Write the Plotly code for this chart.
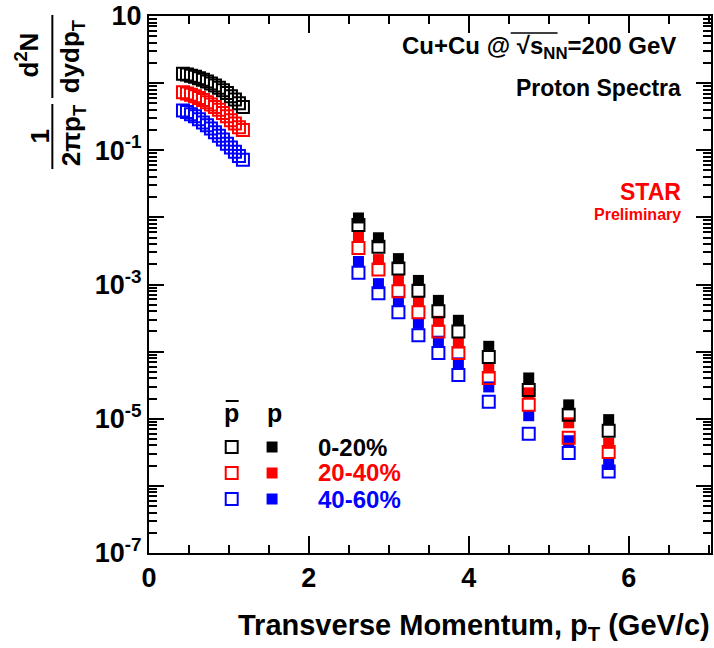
import plotly.graph_objects as go

# ---------------- data ----------------
pt_low = [0.425, 0.475, 0.525, 0.575, 0.625, 0.675, 0.725, 0.775,
          0.825, 0.875, 0.925, 0.975, 1.025, 1.075, 1.125, 1.175]
pbar_low_0_20 = [1.38, 1.34, 1.29, 1.24, 1.18, 1.12, 1.06, 0.99,
                 0.92, 0.85, 0.78, 0.71, 0.64, 0.57, 0.50, 0.44]
pbar_low_20_40 = [0.73, 0.70, 0.67, 0.64, 0.60, 0.56, 0.52, 0.48,
                  0.44, 0.40, 0.36, 0.32, 0.28, 0.25, 0.22, 0.20]
pbar_low_40_60 = [0.39, 0.37, 0.345, 0.32, 0.29, 0.26, 0.235, 0.21,
                  0.185, 0.165, 0.145, 0.125, 0.11, 0.095, 0.082, 0.072]

pt_high = [2.62, 2.87, 3.12, 3.37, 3.62, 3.87, 4.25, 4.75, 5.25, 5.75]
p_0_20 = [9.8e-3, 4.97e-3, 2.43e-3, 1.15e-3, 5.8e-4, 2.93e-4, 1.2e-4, 4.05e-5, 1.61e-5, 9.7e-6]
pbar_0_20 = [7.7e-3, 3.66e-3, 1.73e-3, 8.1e-4, 4.0e-4, 2.0e-4, 8.3e-5, 2.69e-5, 1.15e-5, 6.6e-6]
p_20_40 = [5.3e-3, 2.35e-3, 1.15e-3, 5.6e-4, 2.83e-4, 1.34e-4, 5.7e-5, 2.43e-5, 8.7e-6, 4.3e-6]
pbar_20_40 = [3.5e-3, 1.67e-3, 7.9e-4, 3.85e-4, 2.0e-4, 9.5e-5, 4.05e-5, 1.61e-5, 5.2e-6, 3.2e-6]
p_40_60 = [2.2e-3, 1.03e-3, 5.6e-4, 2.64e-4, 1.43e-4, 6.8e-5, 2.98e-5, 1.11e-5, 4.7e-6, 2.08e-6]
pbar_40_60 = [1.5e-3, 7.4e-4, 3.85e-4, 1.75e-4, 9.5e-5, 4.5e-5, 1.79e-5, 6.0e-6, 3.1e-6, 1.64e-6]

centralities = ["0-20%", "20-40%", "40-60%"]
colors = ["#000000", "#ff0000", "#0000ff"]

y_exponents = [-7, -6, -5, -4, -3, -2, -1, 0, 1]
y_ticktext = ["10<sup>-7</sup>", "", "10<sup>-5</sup>", "", "10<sup>-3</sup>", "",
              "10<sup>-1</sup>", "", "10"]

FONT = "Liberation Sans"

# ---------------- geometry helpers ----------------
W, H = 714, 648
L, R, T, B = 149, 1, 16, 95
PW, PH = W - L - R, H - T - B


def px(x):
    return (x - L) / PW


def py(y):
    return (H - B - y) / PH


fig = go.Figure()

p_sets = [p_0_20, p_20_40, p_40_60]
pbar_sets = [pbar_0_20, pbar_20_40, pbar_40_60]
pbar_low_sets = [pbar_low_0_20, pbar_low_20_40, pbar_low_40_60]

for cen, col, pv in zip(centralities, colors, p_sets):
    fig.add_trace(go.Scatter(x=pt_high, y=pv, mode="markers", name="p " + cen,
                             marker=dict(symbol="square", size=11, color=col,
                                         line=dict(width=0))))
for cen, col, pb, pbl in zip(centralities, colors, pbar_sets, pbar_low_sets):
    fig.add_trace(go.Scatter(x=pt_low + pt_high, y=pbl + pb, mode="markers",
                             name="pbar " + cen,
                             marker=dict(symbol="square-open", size=12, color=col,
                                         line=dict(width=2, color=col))))

axis_common = dict(showline=True, linecolor="black", linewidth=2, mirror="ticks",
                   ticks="inside", tickcolor="black", tickwidth=1.5,
                   showgrid=False, zeroline=False,
                   tickfont=dict(family=FONT, size=27, color="black", weight="bold"))

fig.update_xaxes(range=[0, 7.03], dtick=2, tick0=0, ticklen=17,
                 minor=dict(dtick=0.5, tick0=0, ticks="inside", ticklen=8,
                            tickcolor="black", tickwidth=1.5, showgrid=False),
                 **axis_common)

minor_vals = [k * 10 ** e for e in range(-7, 1) for k in range(2, 10)]
fig.update_yaxes(type="log", range=[-7, 1],
                 tickvals=[10 ** e for e in y_exponents], ticktext=y_ticktext,
                 ticklen=15,
                 minor=dict(tickvals=minor_vals, ticks="inside", ticklen=8,
                            tickcolor="black", tickwidth=1.5, showgrid=False),
                 **axis_common)

ann = []
shapes = []


def text(x, y, s, size, color="black", xanchor="center", yanchor="middle", angle=0):
    ann.append(dict(x=px(x), y=py(y), xref="paper", yref="paper", text=s,
                    showarrow=False, xanchor=xanchor, yanchor=yanchor,
                    textangle=angle,
                    font=dict(family=FONT, size=size, color=color, weight="bold")))


def hline(x0, x1, y, w=2, color="black"):
    shapes.append(dict(type="line", xref="paper", yref="paper",
                       x0=px(x0), x1=px(x1), y0=py(y), y1=py(y),
                       line=dict(color=color, width=w)))


def vline(x, y0, y1, w=2, color="black"):
    shapes.append(dict(type="line", xref="paper", yref="paper",
                       x0=px(x), x1=px(x), y0=py(y0), y1=py(y1),
                       line=dict(color=color, width=w)))


# y-axis title as two fractions
text(28, 55, "d<sup>2</sup>N", 26, angle=-90)
text(72, 57, "dydp<sub>T</sub>", 26, angle=-90)
vline(52, 15, 98)
text(40, 136, "1", 26, angle=-90)
text(72, 136, "2πp<sub>T</sub>", 26, angle=-90)
vline(52, 104, 169)

# x-axis title
text(714, 627, "Transverse Momentum, p<sub>T</sub> (GeV/c)", 29, xanchor="right")

# top-right labels
text(680, 47, "Cu+Cu @ √s<sub>NN</sub>=200 GeV", 24, xanchor="right")
hline(512, 559, 33, w=1.5)
text(685, 88, "Proton Spectra", 23, xanchor="right")
text(685, 192, "STAR", 23, color="#ff0000", xanchor="right")
text(685, 214, "Preliminary", 16, color="#ff0000", xanchor="right")

# legend
text(232, 413, "p", 25)
hline(226, 239, 401, w=2)
text(275, 413, "p", 25)
rows_y = [447, 473, 499]
for cen, col, yy in zip(centralities, colors, rows_y):
    shapes.append(dict(type="rect", xref="paper", yref="paper",
                       x0=px(226), x1=px(238), y0=py(yy - 6), y1=py(yy + 6),
                       line=dict(color=col, width=2), fillcolor="rgba(0,0,0,0)"))
    shapes.append(dict(type="rect", xref="paper", yref="paper",
                       x0=px(267), x1=px(278), y0=py(yy - 5.5), y1=py(yy + 5.5),
                       line=dict(color=col, width=0), fillcolor=col))
    text(317, yy, cen, 24, color=col, xanchor="left")

fig.update_layout(width=W, height=H, margin=dict(l=L, r=R, t=T, b=B),
                  plot_bgcolor="white", paper_bgcolor="white",
                  showlegend=False, annotations=ann, shapes=shapes,
                  font=dict(family=FONT))

fig.write_html("out.html")
